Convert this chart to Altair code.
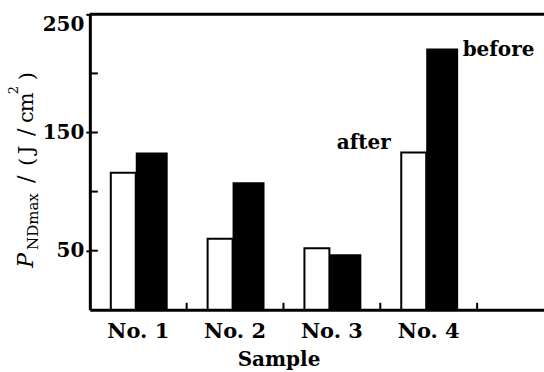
import altair as alt
import pandas as pd

# ---- data ----
samples = ["No. 1", "No. 2", "No. 3", "No. 4"]
after = [116, 60, 52, 133]
before = [133, 108, 47, 221]
y_label_values = [50, 150, 250]
y_inner_ticks = [50, 100, 150, 200]
series_labels = ["after", "before"]

FONT = "DejaVu Serif"
W, H = 455, 296
LEFT, TOP = 90, 14

df = pd.DataFrame({"sample": samples, "after": after, "before": before})
one = pd.DataFrame({"k": [0]})

x_scale = alt.Scale(domain=samples, paddingInner=0, paddingOuter=0.3454, align=0)
y_scale = alt.Scale(domain=[0, 250], nice=False, zero=True)

X_AX = alt.Axis(title="Sample", labelAngle=0, ticks=False,
                domainColor="black", domainWidth=3,
                labelFont=FONT, labelFontWeight="bold", labelFontSize=21,
                labelColor="black", labelPadding=11,
                titleFont=FONT, titleFontWeight="bold", titleFontSize=20,
                titleColor="black", titleX=189, titleY=56,
                titleBaseline="alphabetic", titleAlign="center")
Y_AX = alt.Axis(title=None, values=y_label_values, ticks=True, tickSize=4,
                tickWidth=2, tickColor="black", domainColor="black",
                domainWidth=3, labelFont=FONT, labelFontSize=20,
                labelFontWeight="bold",
                labelColor="black", labelPadding=2, labelFlush=True,
                grid=False)


def xenc(**kw):
    return alt.X("sample:N", scale=x_scale, sort=samples, axis=X_AX, **kw)


def yenc(field):
    return alt.Y(field, scale=y_scale, axis=Y_AX)


after_bars = alt.Chart(df).mark_bar(
    width=25, xOffset=-15, fill="white", stroke="black", strokeWidth=2
).encode(x=xenc(), y=yenc("after:Q"))

before_bars = alt.Chart(df).mark_bar(width=32, xOffset=13.5, color="black").encode(
    x=xenc(), y=yenc("before:Q")
)

y_ticks = alt.Chart(pd.DataFrame({"v": y_inner_ticks})).mark_rule(
    color="black", strokeWidth=2
).encode(y=yenc("v:Q"), x=alt.value(0), x2=alt.value(8))

x_ticks = alt.Chart(df).mark_rule(color="black", strokeWidth=2).encode(
    x=xenc(bandPosition=1), y=alt.value(H), y2=alt.value(H - 7)
)

top_line = alt.Chart(one).mark_rule(color="black", strokeWidth=3).encode(
    x=alt.value(0), x2=alt.value(W), y=alt.value(0)
)

ann = pd.DataFrame({"sample": [samples[3], samples[3]],
                    "v": [after[3], before[3]],
                    "label": series_labels})

after_text = alt.Chart(ann).transform_filter(alt.datum.label == "after").mark_text(
    align="right", baseline="alphabetic", dx=-38, dy=-4,
    font=FONT, fontWeight="bold", fontSize=20, color="black"
).encode(x=xenc(), y=yenc("v:Q"), text="label:N")

before_text = alt.Chart(ann).transform_filter(alt.datum.label == "before").mark_text(
    align="left", baseline="alphabetic", dx=34, dy=7,
    font=FONT, fontWeight="bold", fontSize=20, color="black"
).encode(x=xenc(), y=yenc("v:Q"), text="label:N")

# y-axis title, drawn piecewise to keep the subscript / superscript
title_parts = [
    # text, baseline x, start y (absolute page px), size, style
    ("P", 33, 268, 22, "italic"),
    ("NDmax", 38, 250, 15, "normal"),
    ("/", 33, 183, 22, "normal"),
    ("(", 34, 166, 21, "normal"),
    ("J", 33, 154, 21, "normal"),
    ("/", 33, 136, 22, "normal"),
    ("c", 33, 123, 21, "normal"),
    ("m", 33, 112, 21, "normal"),
    ("2", 18, 94, 13, "normal"),
    (")", 34, 80, 21, "normal"),
]
title_layers = []
for txt, bx, sy, sz, st in title_parts:
    title_layers.append(
        alt.Chart(one).mark_text(
            text=txt, angle=270, align="left", baseline="alphabetic",
            font=FONT, fontSize=sz, fontStyle=st, color="black"
        ).encode(x=alt.value(bx - LEFT), y=alt.value(sy - TOP))
    )

chart = alt.layer(
    after_bars, before_bars, y_ticks, x_ticks, top_line, after_text, before_text,
    *title_layers
).properties(
    width=W, height=H,
    padding={"left": LEFT, "top": TOP, "right": 0, "bottom": 372 - TOP - H},
    autosize=alt.AutoSizeParams(type="none"),
).configure_view(stroke=None).configure(background="white")

chart.save("out.html", embed_options={"renderer": "svg", "actions": False})
